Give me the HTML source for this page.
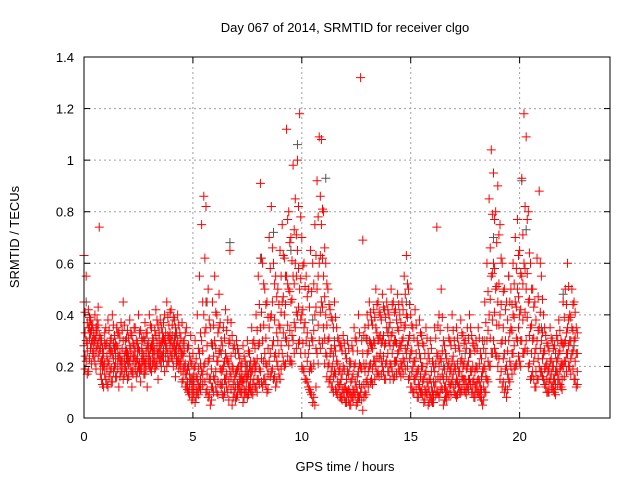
<!DOCTYPE html>
<html><head><meta charset="utf-8"><style>
body{margin:0;background:#fff;}
svg{display:block;font-family:"Liberation Sans",sans-serif;}
</style></head><body>
<svg id="chart" width="640" height="480">
<text x="345" y="32" text-anchor="middle" font-size="13">Day 067 of 2014, SRMTID for receiver clgo</text>
<text x="345" y="471" text-anchor="middle" font-size="13">GPS time / hours</text>
<text transform="translate(19,237) rotate(-90)" text-anchor="middle" font-size="13">SRMTID / TECUs</text>
<g id="grid"></g><g id="marks"></g><g id="axes"></g>
</svg>
<script>
const startHour = 0;
const stepHour = 0.1;
const offsetHour2 = 0.05;
const redRows = [
[.63,.45,.28],[.55,.3,.22],[.42,.35,.18],[.38,.27,.33],[.36,.25,.3],[.4,.3,.22],[.34,.28,.38],[.74,.32,.26],[.3,.22,.15],[.25,.12,.2],
[.35,.15,.28],[.38,.22,.12],[.3,.18,.25],[.4,.25,.14],[.32,.2,.27],[.28,.16,.35],[.24,.33,.12],[.37,.22,.18],[.45,.3,.15],[.3,.2,.26],
[.25,.15,.34],[.38,.22,.28],[.32,.18,.12],[.28,.24,.35],[.22,.16,.3],[.4,.27,.2],[.34,.19,.14],[.3,.25,.22],[.37,.21,.17],[.28,.33,.12],
[.4,.24,.2],[.35,.28,.18],[.3,.22,.26],[.42,.32,.2],[.36,.25,.15],[.38,.28,.22],[.33,.24,.3],[.4,.3,.18],[.45,.27,.2],[.36,.22,.31],
[.42,.3,.24],[.39,.28,.2],[.35,.26,.16],[.4,.3,.22],[.33,.21,.28],[.37,.25,.14],[.3,.2,.26],[.35,.17,.12],[.28,.2,.1],[.32,.15,.22],
[.25,.12,.08],[.3,.2,.06],[.4,.15,.1],[.55,.25,.12],[.75,.3,.18],[.86,.4,.2],[.82,.35,.1],[.5,.22,.08],[.35,.15,.05],[.45,.28,.12],
[.55,.3,.15],[.4,.22,.1],[.48,.25,.35],[.3,.18,.12],[.35,.2,.08],[.42,.15,.25],[.38,.22,.1],[.65,.3,.18],[.32,.2,.05],[.28,.15,.1],
[.3,.18,.08],[.25,.12,.2],[.2,.1,.15],[.28,.14,.06],[.22,.1,.18],[.3,.16,.08],[.25,.12,.2],[.35,.18,.1],[.3,.15,.22],[.4,.2,.12],
[.55,.28,.15],[.91,.35,.18],[.6,.3,.12],[.5,.25,.15],[.45,.2,.1],[.7,.35,.22],[.82,.4,.18],[.6,.3,.15],[.55,.25,.12],[.5,.3,.2],
[.65,.35,.15],[.75,.45,.25],[.62,.4,.2],[1.12,.55,.3],[.8,.5,.28],[.7,.45,.22],[.98,.55,.3],[.85,.6,.35],[1.0,.65,.4],[1.18,.5,.3],
[.7,.4,.2],[.6,.35,.18],[.55,.3,.15],[.5,.25,.12],[.65,.2,.1],[.6,.3,.06],[.75,.4,.05],[.92,.5,.25],[1.09,.6,.3],[1.08,.75,.45],
[.8,.55,.35],[.6,.4,.25],[.5,.3,.2],[.42,.25,.15],[.38,.2,.12],[.45,.28,.18],[.35,.22,.1],[.3,.18,.12],[.28,.15,.08],[.32,.2,.1],
[.25,.12,.06],[.3,.18,.1],[.22,.1,.05],[.28,.15,.08],[.35,.2,.1],[.3,.12,.05],[.4,.18,.08],[1.32,.2,.1],[.69,.25,.03],[.35,.18,.1],
[.4,.25,.15],[.45,.3,.2],[.38,.28,.15],[.42,.3,.22],[.5,.35,.2],[.45,.3,.18],[.4,.32,.25],[.48,.3,.2],[.42,.28,.15],[.45,.35,.22],
[.4,.3,.18],[.5,.32,.2],[.45,.28,.15],[.42,.3,.22],[.48,.35,.25],[.4,.28,.18],[.45,.3,.2],[.55,.35,.22],[.63,.4,.25],[.5,.3,.15],
[.4,.25,.12],[.35,.2,.1],[.42,.22,.15],[.3,.18,.08],[.38,.25,.12],[.32,.2,.1],[.28,.15,.06],[.35,.18,.1],[.25,.12,.05],[.3,.15,.08],
[.22,.1,.06],[.35,.18,.12],[.74,.25,.1],[.4,.2,.08],[.5,.22,.12],[.3,.15,.05],[.25,.12,.08],[.35,.2,.1],[.3,.18,.12],[.4,.22,.15],
[.3,.2,.1],[.35,.15,.08],[.28,.18,.12],[.38,.22,.1],[.32,.2,.15],[.3,.15,.1],[.35,.2,.12],[.4,.25,.15],[.32,.18,.1],[.28,.15,.08],
[.3,.2,.12],[.35,.15,.1],[.25,.12,.08],[.3,.18,.05],[.45,.2,.1],[.6,.3,.15],[.85,.4,.2],[1.04,.55,.25],[.95,.6,.3],[.8,.5,.25],
[.9,.45,.2],[.75,.4,.15],[.6,.3,.12],[.5,.25,.1],[.45,.2,.08],[.55,.3,.15],[.5,.35,.2],[.6,.4,.25],[.7,.45,.2],[.77,.5,.3],
[.65,.4,.22],[.93,.55,.3],[1.18,.6,.25],[1.09,.5,.3],[.8,.45,.2],[.6,.35,.15],[.5,.3,.18],[.45,.25,.12],[.62,.3,.15],[.88,.35,.2],
[.55,.3,.18],[.4,.25,.15],[.32,.2,.12],[.28,.18,.1],[.35,.22,.15],[.3,.2,.12],[.28,.15,.1],[.32,.22,.18],[.38,.25,.15],[.3,.2,.12],
[.45,.28,.2],[.5,.3,.22],[.6,.35,.25],[.4,.3,.2],[.5,.35,.25],[.45,.3,.15],[.35,.25,.12]
];
const redRows2 = [
[.41,.33,.24,.19],[.37,.29,.26,.17],[.39,.31,.23,.35],[.34,.36,.21,.29],[.31,.33,.27,.24],[.35,.26,.19,.32],[.43,.29,.24,.36],[.31,.27,.21,.17],[.27,.19,.13,.23],[.33,.21,.17,.29],
[.29,.24,.19,.13],[.34,.27,.16,.21],[.26,.31,.14,.19],[.36,.23,.18,.29],[.29,.25,.21,.16],[.33,.19,.23,.27],[.31,.21,.16,.25],[.27,.34,.19,.22],[.36,.24,.21,.17],[.26,.31,.18,.23],
[.31,.21,.24,.16],[.33,.27,.19,.24],[.29,.24,.21,.17],[.35,.19,.26,.22],[.29,.23,.18,.26],[.33,.21,.26,.18],[.27,.23,.19,.31],[.24,.31,.21,.17],[.33,.26,.19,.23],[.29,.24,.21,.27],
[.36,.27,.22,.19],[.31,.25,.21,.28],[.34,.26,.23,.19],[.38,.29,.25,.21],[.31,.27,.23,.33],[.35,.29,.24,.2],[.37,.31,.26,.22],[.33,.28,.24,.29],[.39,.32,.25,.22],[.41,.29,.26,.33],
[.36,.32,.27,.23],[.38,.29,.25,.31],[.33,.28,.24,.21],[.36,.27,.23,.19],[.31,.26,.22,.18],[.29,.24,.19,.15],[.33,.21,.17,.12],[.27,.19,.14,.11],[.24,.17,.13,.09],[.21,.15,.11,.07],
[.19,.14,.1,.17],[.23,.16,.11,.08],[.27,.19,.13,.09],[.33,.21,.15,.11],[.45,.26,.17,.13],[.62,.33,.21,.14],[.45,.28,.17,.11],[.38,.23,.15,.09],[.29,.19,.12,.07],[.36,.24,.16,.1],
[.41,.27,.18,.12],[.33,.22,.14,.09],[.37,.26,.19,.13],[.28,.19,.13,.09],[.31,.22,.15,.1],[.34,.23,.17,.12],[.29,.21,.14,.07],[.37,.24,.16,.11],[.27,.19,.13,.08],[.25,.17,.12,.07],
[.27,.19,.13,.09],[.23,.16,.11,.14],[.21,.14,.1,.17],[.24,.15,.11,.08],[.2,.14,.1,.16],[.26,.17,.12,.09],[.22,.15,.11,.18],[.29,.19,.13,.09],[.27,.18,.12,.21],[.34,.23,.15,.1],
[.44,.29,.19,.13],[.62,.41,.23,.14],[.52,.36,.22,.15],[.44,.31,.21,.13],[.39,.27,.17,.11],[.58,.39,.25,.16],[.66,.45,.28,.19],[.52,.38,.24,.16],[.47,.33,.22,.14],[.44,.36,.25,.17],
[.55,.41,.28,.19],[.63,.47,.33,.22],[.55,.44,.31,.21],[.77,.52,.36,.24],[.68,.49,.34,.22],[.61,.46,.32,.21],[.73,.52,.37,.25],[.71,.55,.41,.27],[.82,.58,.43,.29],[.78,.54,.38,.25],
[.59,.42,.29,.19],[.51,.37,.25,.15],[.47,.33,.22,.14],[.43,.28,.18,.11],[.49,.31,.19,.09],[.52,.34,.21,.08],[.63,.43,.27,.12],[.78,.55,.36,.21],[.86,.63,.41,.27],[.81,.62,.43,.29],
[.66,.47,.31,.21],[.52,.36,.24,.16],[.44,.31,.21,.14],[.39,.27,.18,.12],[.35,.24,.16,.1],[.39,.26,.17,.11],[.31,.21,.14,.09],[.28,.19,.13,.08],[.26,.17,.11,.07],[.29,.19,.12,.08],
[.23,.15,.1,.06],[.27,.17,.11,.07],[.21,.14,.09,.05],[.26,.17,.11,.07],[.31,.21,.14,.09],[.26,.16,.1,.06],[.33,.21,.13,.08],[.3,.19,.12,.07],[.32,.21,.13,.08],[.31,.21,.14,.09],
[.36,.26,.18,.12],[.41,.29,.21,.14],[.36,.27,.19,.13],[.39,.29,.22,.15],[.44,.33,.24,.17],[.41,.31,.23,.16],[.38,.29,.22,.17],[.43,.32,.24,.18],[.39,.29,.21,.15],[.42,.33,.25,.18],
[.37,.28,.21,.15],[.44,.33,.25,.18],[.41,.3,.22,.16],[.38,.29,.22,.17],[.44,.34,.26,.19],[.37,.28,.21,.16],[.42,.31,.23,.17],[.48,.36,.27,.19],[.52,.39,.28,.2],[.44,.32,.23,.16],
[.36,.26,.18,.12],[.31,.22,.15,.1],[.36,.25,.17,.11],[.28,.19,.13,.08],[.33,.23,.16,.1],[.29,.2,.14,.09],[.25,.17,.11,.07],[.31,.21,.14,.09],[.23,.15,.1,.06],[.27,.18,.12,.07],
[.2,.14,.09,.06],[.31,.21,.14,.09],[.36,.24,.16,.1],[.34,.23,.15,.1],[.39,.26,.17,.11],[.28,.19,.12,.07],[.23,.16,.1,.07],[.31,.21,.14,.09],[.28,.19,.13,.09],[.34,.24,.17,.12],
[.27,.19,.13,.09],[.31,.21,.14,.09],[.26,.18,.13,.1],[.33,.23,.16,.11],[.29,.21,.15,.11],[.27,.19,.13,.09],[.31,.22,.15,.11],[.35,.25,.18,.13],[.29,.2,.14,.1],[.26,.18,.12,.08],
[.27,.19,.14,.1],[.31,.21,.14,.09],[.23,.16,.11,.07],[.27,.19,.12,.07],[.37,.25,.16,.1],[.49,.34,.22,.14],[.66,.46,.31,.2],[.79,.56,.38,.25],[.77,.58,.41,.27],[.68,.51,.36,.24],
[.71,.52,.36,.23],[.62,.44,.29,.18],[.49,.35,.23,.14],[.42,.3,.19,.12],[.38,.26,.17,.11],[.45,.33,.22,.14],[.44,.34,.25,.17],[.52,.39,.28,.19],[.58,.43,.31,.21],[.63,.47,.35,.24],
[.56,.42,.3,.2],[.71,.52,.38,.25],[.82,.58,.41,.27],[.77,.56,.39,.26],[.64,.46,.32,.21],[.5,.36,.25,.16],[.43,.31,.22,.15],[.38,.27,.18,.12],[.47,.34,.23,.15],[.6,.41,.27,.18],
[.46,.33,.23,.16],[.35,.26,.19,.13],[.29,.21,.15,.1],[.26,.19,.14,.1],[.31,.23,.17,.12],[.27,.2,.15,.11],[.25,.18,.13,.09],[.3,.23,.17,.13],[.34,.26,.19,.13],[.29,.21,.15,.11],
[.39,.29,.22,.16],[.44,.33,.25,.18],[.51,.38,.28,.2],[.39,.3,.23,.17],[.44,.34,.26,.19],[.41,.31,.22,.15],[.33,.25,.18,.13]
];
const grayHours = [0.1,0.5,1.2,2.0,2.8,3.5,4.2,5.0,5.6,6.3,6.7,7.5,8.1,8.7,9.5,9.8,10.5,11.1,11.5,12.2,13.0,14.0,14.8,15.5,16.5,17.5,18.4,18.8,19.5,20.1,20.3,21.0,22.0,22.5];
const grayValues = [0.45,0.3,0.28,0.22,0.3,0.25,0.32,0.15,0.45,0.25,0.68,0.2,0.62,0.72,0.65,1.06,0.38,0.93,0.3,0.2,0.3,0.35,0.45,0.2,0.2,0.25,0.3,0.7,0.55,0.92,0.73,0.35,0.48,0.28];
const xTicks = [0,5,10,15,20];
const yTicks = [0,0.2,0.4,0.6,0.8,1,1.2,1.4];
const yTickLabels = ["0","0.2","0.4","0.6","0.8","1","1.2","1.4"];

const L=84,R=610,T=57,B=418,XMAX=24.15,YMAX=1.4;
const xs=h=>L+(h/XMAX)*(R-L);
const ys=v=>B-(v/YMAX)*(B-T);
const NS="http://www.w3.org/2000/svg";
function mk(tag,attrs,parent){const e=document.createElementNS(NS,tag);for(const k in attrs)e.setAttribute(k,attrs[k]);parent.appendChild(e);return e;}
const grid=document.getElementById('grid'),marks=document.getElementById('marks'),axes=document.getElementById('axes');
yTicks.forEach((v,i)=>{
  const y=ys(v);
  if(i>0&&i<yTicks.length-1){const g=mk('line',{x1:L,x2:R,y1:y,y2:y,stroke:'#a0a0a0','stroke-dasharray':'2,3'},grid);
  
  }
  mk('line',{x1:L,x2:L+6,y1:y,y2:y,stroke:'#000'},axes);
  mk('line',{x1:R,x2:R-6,y1:y,y2:y,stroke:'#000'},axes);
  const t=mk('text',{x:L-10,y:y+5,'text-anchor':'end','font-size':'13'},axes);t.textContent=yTickLabels[i];
  
  
});
xTicks.forEach(h=>{
  const x=xs(h);
  if(h>0){const g=mk('line',{x1:x,x2:x,y1:T,y2:B,stroke:'#a0a0a0','stroke-dasharray':'2,3'},grid);
  
  }
  mk('line',{x1:x,x2:x,y1:B,y2:B-6,stroke:'#000'},axes);
  mk('line',{x1:x,x2:x,y1:T,y2:T+6,stroke:'#000'},axes);
  const t=mk('text',{x:x,y:B+23,'text-anchor':'middle','font-size':'13'},axes);t.textContent=String(h);
  
  
});
const frame=mk('rect',{x:L,y:T,width:R-L,height:B-T,fill:'none',stroke:'#000'},axes);


function plus(x,y,color,name){
  const p=mk('path',{d:`M${x-4.5},${y}h9M${x},${y-4.5}v9`,stroke:color,'stroke-width':'1','fill':'none'},marks);
  
  
}
grayHours.forEach((h,i)=>plus(xs(h),ys(grayValues[i]),'#555','gray-point'));
redRows.forEach((row,i)=>{const h=startHour+i*stepHour;row.forEach(v=>plus(xs(h),ys(v),'#f00','red-point'));});
redRows2.forEach((row,i)=>{const h=startHour+offsetHour2+i*stepHour;row.forEach(v=>plus(xs(h),ys(v),'#f00','red-point'));});
</script>
</body></html>
